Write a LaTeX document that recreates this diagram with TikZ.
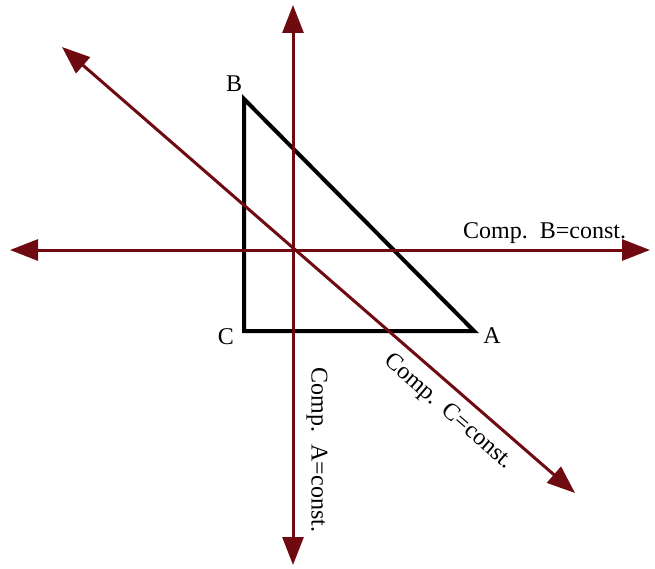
\documentclass[tikz,border=0pt]{standalone}
\usepackage{fontspec}
\setmainfont{Liberation Serif}
\usetikzlibrary{arrows.meta}
\definecolor{axis}{HTML}{6E0A10}

\begin{document}
\begin{tikzpicture}[x=1pt,y=-1pt,font=\fontsize{24}{28}\selectfont,
    compline/.style={draw=axis,line width=3pt,
      {Triangle[length=28pt,width=21pt]}-{Triangle[length=28pt,width=21pt]}},
    vertex/.style={inner sep=0pt}]
  \useasboundingbox (0,0) rectangle (655,569);
  % ends of the three lines
  \coordinate (bw) at (10,250);
  \coordinate (be) at (650,250);
  \coordinate (an) at (293,5);
  \coordinate (as) at (293,565);
  \coordinate (cnw) at (62,47);
  \coordinate (cse) at (575,493);
  % triangle
  \coordinate (A) at (474,331);
  \coordinate (B) at (244,99);
  \coordinate (C) at (244,331);
  \draw[line width=4pt,line join=miter] (B) -- (C) -- (A) -- cycle;
  \node[vertex] (labA) at (492,336) {A};
  \node[vertex] (labB) at (234,84) {B};
  \node[vertex] (labC) at (226,337) {C};
  % constant composition lines
  \draw[compline] (bw) -- (be);
  \draw[compline] (an) -- (as);
  \draw[compline] (cnw) -- (cse);
  \node[anchor=base west,inner sep=0pt] (compB) at (463,238) {Comp.\ \ B=const.};
  \node[rotate=-90,inner sep=0pt] (compA) at (317,450) {Comp.\ \ A=const.};
  \node[rotate=-41,inner sep=0pt] (compC) at (448,412) {Comp.\ \ C=const.};
\end{tikzpicture}
\end{document}
